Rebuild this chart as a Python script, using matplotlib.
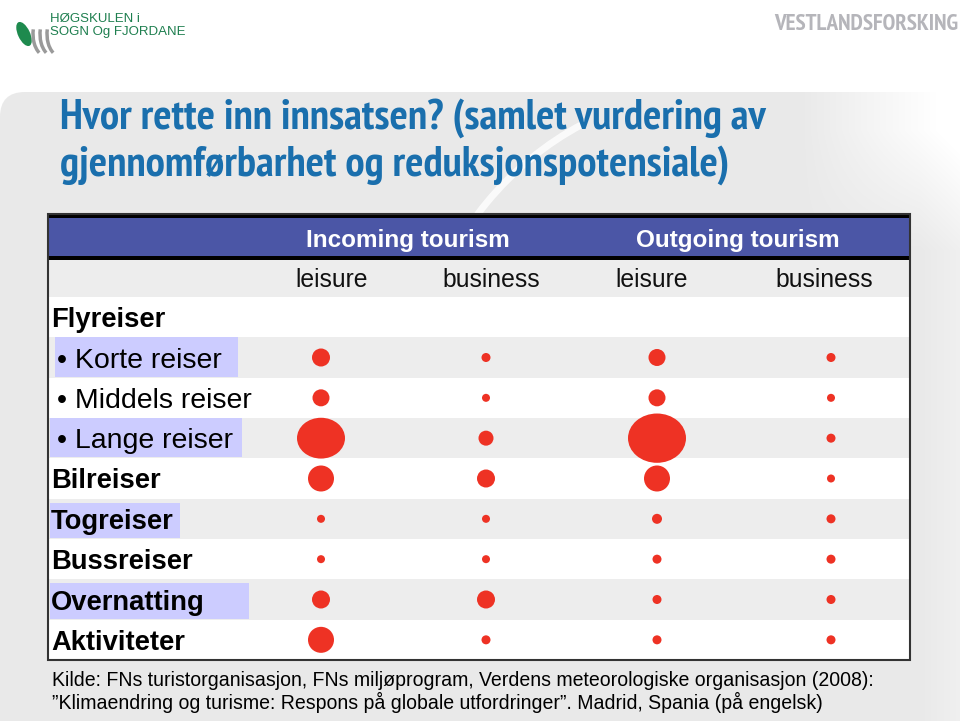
import numpy as np
import matplotlib
matplotlib.use('Agg')
import matplotlib.pyplot as plt
from matplotlib import font_manager
from matplotlib.patches import Rectangle, Ellipse, FancyBboxPatch, Arc

# --- data ---
rows = ['Flyreiser', 'Korte reiser', 'Middels reiser', 'Lange reiser', 'Bilreiser',
        'Togreiser', 'Bussreiser', 'Overnatting', 'Aktiviteter']
bullet_rows = ['Korte reiser', 'Middels reiser', 'Lange reiser']
highlight_rows = ['Korte reiser', 'Lange reiser', 'Togreiser', 'Overnatting']
groups = ['Incoming tourism', 'Outgoing tourism']
segments = ['leisure', 'business', 'leisure', 'business']

# dot diameters (px) per column, 0 = no dot
incoming_leisure = [0, 18, 17, 48, 26, 8, 8, 18, 26]
incoming_business = [0, 9, 8, 15, 18, 8, 8, 18, 9]
outgoing_leisure = [0, 17, 17, 58, 26, 10, 9, 9, 9]
outgoing_business = [0, 9, 8, 9, 8, 9, 9, 9, 9]

title = ['Hvor rette inn innsatsen? (samlet vurdering av',
         'gjennomførbarhet og reduksjonspotensiale)']
source = ['Kilde: FNs turistorganisasjon, FNs miljøprogram, Verdens meteorologiske organisasjon (2008):',
          '\u201dKlimaendring og turisme: Respons på globale utfordringer\u201d. Madrid, Spania (på engelsk)']

bold_faces = {f.name for f in font_manager.fontManager.ttflist
              if isinstance(f.weight, int) and f.weight >= 600 or f.weight == 'bold'}
installed = {f.name for f in font_manager.fontManager.ttflist}


def pick(options, default, need_bold=False):
    for o in options:
        if o in installed and (not need_bold or o in bold_faces):
            return o
    return default


NARROW = pick(['Arial Narrow', 'Liberation Sans Narrow', 'PT Sans Narrow', 'Archivo Narrow',
               'Roboto Condensed', 'Open Sans Condensed', 'IBM Plex Sans Condensed',
               'Fira Sans Condensed', 'Encode Sans Condensed', 'Barlow Condensed'],
              'Liberation Sans', need_bold=True)
SANS = pick(['Arial', 'Liberation Sans', 'Arimo'], 'DejaVu Sans')

W, H = 960, 721
fig = plt.figure(figsize=(W / 100, H / 100), dpi=100)
ax = fig.add_axes([0, 0, 1, 1])
ax.set_xlim(0, W)
ax.set_ylim(H, 0)
ax.axis('off')
renderer = fig.canvas.get_renderer()


def fit(t, width):
    bb = t.get_window_extent(renderer)
    t.set_fontsize(t.get_fontsize() * width / bb.width)


# background: light grey slide body, fading to white at the top right
yy, xx = np.mgrid[0:H, 0:W]
bg = 0.915 + 0.075 * np.clip((xx - 800) / 120, 0, 1) * np.clip((250 - yy) / 120, 0, 1)
bg += 0.025 * np.clip((xx - 920) / 40, 0, 1)
ax.add_patch(Rectangle((0, 0), W, H, fc='white', ec='none', zorder=0))
slide = FancyBboxPatch((0, 92), W + 40, H, boxstyle='round,pad=0,rounding_size=25',
                       fc='none', ec='none', zorder=1)
ax.add_patch(slide)
im = ax.imshow(np.dstack([bg, bg, bg]).clip(0, 1), extent=(0, W, H, 0), zorder=1)
im.set_clip_path(slide)
ax.add_patch(Arc((720, 420), 620, 660, theta1=200, theta2=245, color='white', lw=5,
                 alpha=0.8, zorder=1))

# logos
ax.add_patch(Ellipse((24, 34), 12, 26, angle=-25, fc='#1e8a4e', ec='none', zorder=2))
for dx in (0, 7, 14):
    ax.add_patch(Arc((46 + dx, 34), 26, 44, theta1=110, theta2=200, color='#9a9a9a', lw=2.5, zorder=2))
ax.text(50, 19, 'HØGSKULEN i', fontsize=9.5, color='#1e7f4f', family=SANS, va='center', zorder=3)
ax.text(50, 32, 'SOGN Og FJORDANE', fontsize=9.5, color='#1e7f4f', family=SANS, va='center', zorder=3)
vf = ax.text(958, 24, 'VESTLANDSFORSKING', fontsize=19, color='#b5b5ba', family=NARROW,
             weight='bold', ha='right', va='center', zorder=3)
fit(vf, 185)

# title
for i, line in enumerate(title):
    t = ax.text(60, 129 + 47 * i, line, fontsize=24, color='#1a6fad', family=NARROW,
                weight='bold', va='baseline', zorder=3)
    fit(t, 708 if i == 0 else 670)

# table geometry
left, right, top, bottom = 48, 910, 214, 660
row_top = 297
row_h = (bottom - row_top) / len(rows)
col_x = [321, 486, 657, 831]
seg_x = [332, 491, 652, 824]
group_x = [408, 738]

ax.add_patch(Rectangle((left, top), right - left, bottom - top, fc='white', ec='none', zorder=2))
ax.add_patch(Rectangle((left, 260), right - left, row_top - 260, fc='#ededed', ec='none', zorder=2))
for i, r in enumerate(rows):
    if i % 2 == 1:
        ax.add_patch(Rectangle((left, row_top + i * row_h), right - left, row_h,
                               fc='#ededed', ec='none', zorder=2))
ax.add_patch(Rectangle((left, top), right - left, 4, fc='black', ec='none', zorder=3))
ax.add_patch(Rectangle((left, top + 4), right - left, 38, fc='#4b56a6', ec='none', zorder=3))
ax.add_patch(Rectangle((left, top + 42), right - left, 4, fc='black', ec='none', zorder=3))
ax.add_patch(Rectangle((left, top), right - left, bottom - top, fc='none', ec='#333333',
                       lw=1.5, zorder=4))

for g, x in zip(groups, group_x):
    ax.text(x, 240, g, fontsize=17.5, color='white', family=SANS, weight='bold',
            ha='center', va='center', zorder=5)
for s, x in zip(segments, seg_x):
    ax.text(x, 280, s, fontsize=17.8, color='#111111', family=SANS,
            ha='center', va='center', zorder=5)

# row labels
hl_left = {'Korte reiser': 55, 'Lange reiser': 50, 'Togreiser': 50, 'Overnatting': 50}
hl_right = {'Korte reiser': 238, 'Lange reiser': 242, 'Togreiser': 180, 'Overnatting': 249}
for i, r in enumerate(rows):
    yc = row_top + (i + 0.5) * row_h
    if r in highlight_rows:
        y0 = row_top + i * row_h
        if r in ('Togreiser', 'Overnatting'):
            y0 += 4
        ax.add_patch(Rectangle((hl_left[r], y0), hl_right[r] - hl_left[r],
                               row_top + (i + 1) * row_h - y0 - 1,
                               fc='#ccccff', ec='none', zorder=4))
    if r in bullet_rows:
        ax.text(57, yc + 3, '\u2022 ' + r, fontsize=20.5, color='black', family=SANS,
                va='center', zorder=5)
    else:
        ax.text(51, yc + 3, r, fontsize=19.7, color='black', family=SANS, weight='bold',
                va='center', zorder=5)

# dots
for x, sizes in zip(col_x, [incoming_leisure, incoming_business, outgoing_leisure, outgoing_business]):
    for i, d in enumerate(sizes):
        if d == 0:
            continue
        yc = row_top + (i + 0.5) * row_h
        h = d * 0.85 if d > 40 else d
        ax.add_patch(Ellipse((x, yc), d, h, fc='#ee3224', ec='none', zorder=5))

# source
for i, line in enumerate(source):
    t = ax.text(52, 686 + 23 * i, line, fontsize=13, color='black', family=SANS,
                va='baseline', zorder=5)
    fit(t, 818 if i == 0 else 768)

fig.savefig('out.png', dpi=100)
